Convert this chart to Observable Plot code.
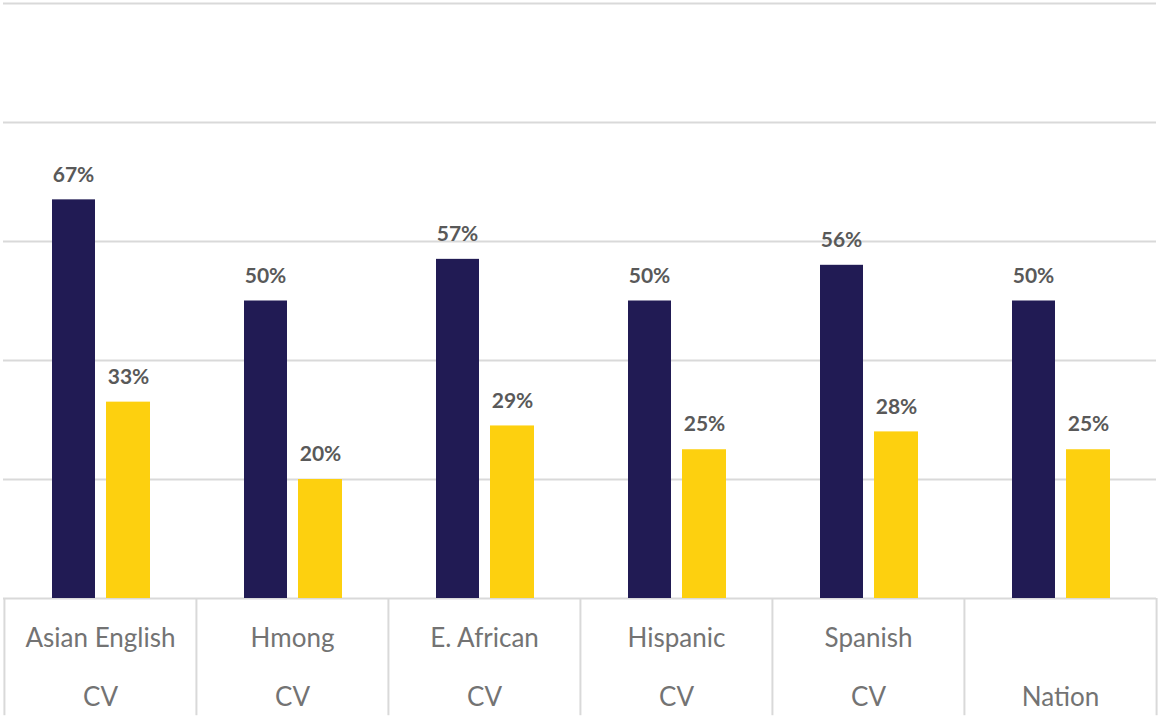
<!DOCTYPE html>
<html>
<head>
<meta charset="utf-8">
<script src="https://cdn.jsdelivr.net/npm/d3@7"></script>
<script src="https://cdn.jsdelivr.net/npm/@observablehq/plot@0.6"></script>
<style>
  html, body { margin: 0; padding: 0; background: #fff; }
  #chart svg { display: block; }
</style>
</head>
<body>
<div id="chart"></div>
<script>
const categories = ["Asian English\nCV", "Hmong\nCV", "E. African\nCV", "Hispanic\nCV", "Spanish\nCV", "\nNation"];
const seriesA = [67, 50, 57, 50, 56, 50];
const seriesB = [33, 20, 29, 25, 28, 25];
const gridTicks = [20, 40, 60, 80, 100];

const rowsA = categories.map((c, i) => ({cat: c, value: seriesA[i]}));
const rowsB = categories.map((c, i) => ({cat: c, value: seriesB[i]}));

const W = 1159, H = 721;
const mL = 3, mR = 3;
const bw = (W - mL - mR) / categories.length;

const chart = Plot.plot({
  width: W,
  height: H,
  marginTop: 3,
  marginBottom: 123,
  marginLeft: mL,
  marginRight: mR,
  style: {fontFamily: "Lato, sans-serif", background: "#fff"},
  x: {domain: categories, padding: 0, axis: null},
  y: {domain: [0, 100], axis: null},
  marks: [
    Plot.ruleY(gridTicks, {stroke: "#d9d9d9", strokeWidth: 2}),
    Plot.ruleY([0], {stroke: "#d9d9d9", strokeWidth: 2}),
    Plot.ruleX(categories, {x: d => d, dx: -bw / 2, y1: 0, y2: -19.7, stroke: "#d9d9d9", strokeWidth: 2}),
    Plot.ruleX(categories.slice(-1), {x: d => d, dx: bw / 2, y1: 0, y2: -19.7, stroke: "#d9d9d9", strokeWidth: 2}),
    Plot.barY(rowsA, {x: "cat", y: "value", fill: "#211b54", insetLeft: 48, insetRight: 101}),
    Plot.barY(rowsB, {x: "cat", y: "value", fill: "#fdd00f", insetLeft: 102, insetRight: 46}),
    Plot.text(rowsA, {x: "cat", y: "value", text: d => d.value + "%", dx: -27, dy: -25, fontSize: 21, fontWeight: "bold", fill: "#595959"}),
    Plot.text(rowsB, {x: "cat", y: "value", text: d => d.value + "%", dx: 28, dy: -25, fontSize: 21, fontWeight: "bold", fill: "#595959"}),
    Plot.axisX({tickSize: 0, tickPadding: 7, fontSize: 26, lineHeight: 59 / 26, lineAnchor: "top", fill: "#737373", label: null})
  ]
});
document.getElementById("chart").appendChild(chart);
</script>
</body>
</html>
